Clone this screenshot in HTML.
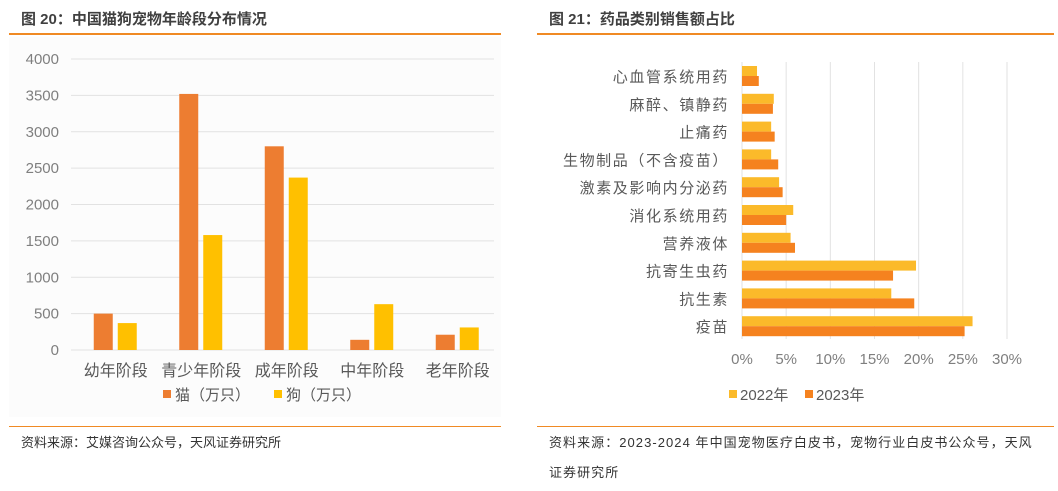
<!DOCTYPE html>
<html><head><meta charset="utf-8"><style>
body{margin:0;width:1058px;height:491px;background:#fff;font-family:"Liberation Sans","Noto Sans CJK SC",sans-serif;overflow:hidden;position:relative}
.t{position:absolute;font-weight:bold;font-size:15px;color:#404040}
.rule{position:absolute;height:2px;background:#F08A24}
.src{position:absolute;font-size:13px;color:#333;line-height:30px}
svg{position:absolute;left:0;top:0}
</style></head><body>
<div class="t" style="left:21px;top:8px">图 20：中国猫狗宠物年龄段分布情况</div>
<div class="rule" style="left:9px;top:33px;width:492px"></div>
<div class="t" style="left:549px;top:8px">图 21：药品类别销售额占比</div>
<div class="rule" style="left:537px;top:33px;width:517px"></div>
<div class="rule" style="left:9px;top:426px;width:492px;height:1px"></div>
<div class="rule" style="left:537px;top:426px;width:517px;height:1px"></div>
<div class="src" style="left:21px;top:428px">资料来源：艾媒咨询公众号，天风证券研究所</div>
<div class="src" style="left:549px;top:428px;width:505px;letter-spacing:1.05px;white-space:nowrap">资料来源：2023-2024 年中国宠物医疗白皮书，宠物行业白皮书公众号，天风<br>证券研究所</div>
<svg id="s" width="1058" height="491"></svg>
<script>
const ageCats=["幼年阶段","青少年阶段","成年阶段","中年阶段","老年阶段"];
const catVals=[500,3520,2800,140,210];
const dogVals=[370,1580,2370,630,310];
const yTicks=[0,500,1000,1500,2000,2500,3000,3500,4000];
const drugCats=["心血管系统用药","麻醉、镇静药","止痛药","生物制品（不含疫苗）","激素及影响内分泌药","消化系统用药","营养液体","抗寄生虫药","抗生素","疫苗"];
const v2022=[1.7,3.6,3.3,3.3,4.2,5.8,5.5,19.7,16.9,26.1];
const v2023=[1.9,3.5,3.7,4.1,4.6,5.0,6.0,17.1,19.5,25.2];
const xTicks=[0,5,10,15,20,25,30];
const s=document.getElementById('s');
function el(t,a,txt){const e=document.createElementNS('http://www.w3.org/2000/svg',t);for(const k in a)e.setAttribute(k,a[k]);if(txt!==undefined)e.textContent=txt;s.appendChild(e);return e;}
let e=el('rect',{x:9,y:37,width:492,height:380,fill:'#fcfcfc'});


const y=v=>350-v*(291/4000);
const gx=i=>73+85.5*(i+0.5);
yTicks.forEach(t=>{
 let g=el('line',{x1:71,x2:494,y1:y(t),y2:y(t),stroke:'#e2e2e2','stroke-width':1});
 
 
 let l=el('text',{x:59,y:y(t)+5,'text-anchor':'end','font-size':15,fill:'#7f7f7f'},t);
 
 
});
ageCats.forEach((c,i)=>{
 let b=el('rect',{x:gx(i)-22,y:y(catVals[i]),width:19,height:350-y(catVals[i]),fill:'#ED7D31'});
 
 
 let d=el('rect',{x:gx(i)+2,y:y(dogVals[i]),width:19,height:350-y(dogVals[i]),fill:'#FFC000'});
 
 
 let l=el('text',{x:gx(i),y:376,'text-anchor':'middle','font-size':16,fill:'#595959'},c);
 
 
});
[[163,'#ED7D31','猫（万只）'],[274,'#FFC000','狗（万只）']].forEach(([x,c,t])=>{
 let r=el('rect',{x:x,y:390,width:8,height:8,fill:c});
 
 
 let l=el('text',{x:x+12,y:400,'font-size':15,fill:'#595959'},t);
 
 
});
const x=v=>742+v*(265/30);
const ry=i=>76+i*27.8;
xTicks.forEach(t=>{
 let g=el('line',{x1:x(t),x2:x(t),y1:62,y2:339,stroke:'#e2e2e2','stroke-width':1});
 
 
 let l=el('text',{x:x(t),y:364,'text-anchor':'middle','font-size':15,fill:'#7f7f7f'},t+'%');
 
 
});
drugCats.forEach((c,i)=>{
 let a=el('rect',{x:742,y:ry(i)-10,width:x(v2022[i])-742,height:10,fill:'#FBBA2A'});
 
 
 let b=el('rect',{x:742,y:ry(i),width:x(v2023[i])-742,height:10,fill:'#F5821F'});
 
 
 let l=el('text',{x:729,y:ry(i)+6,'text-anchor':'end','font-size':15,'letter-spacing':1.6,fill:'#595959'},c);
 
 
});
[[729,'#FBBA2A','2022年'],[805,'#F5821F','2023年']].forEach(([xx,c,t])=>{
 let r=el('rect',{x:xx,y:390,width:8,height:8,fill:c});
 
 
 let l=el('text',{x:xx+11,y:400,'font-size':15,fill:'#595959'},t);
 
 
});
</script>
</body></html>
